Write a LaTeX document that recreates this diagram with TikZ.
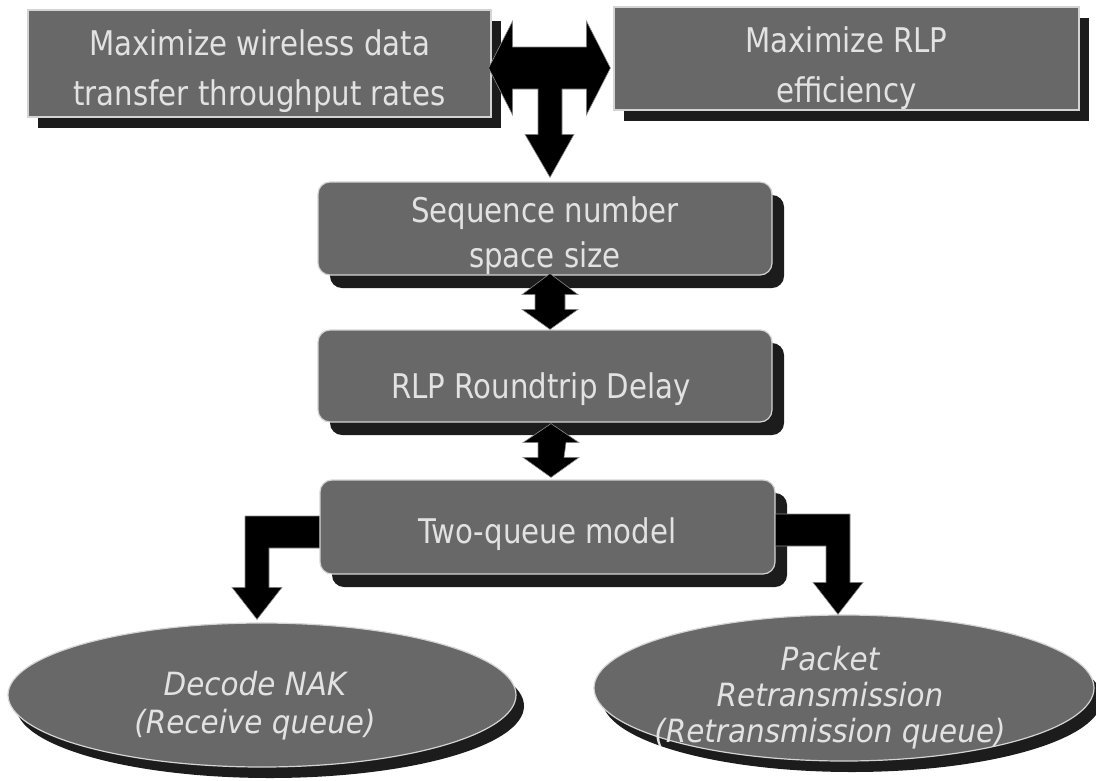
\documentclass[tikz,border=0pt]{standalone}
\usepackage{fontspec}
\usetikzlibrary{calc,shadows,shapes.geometric}
\newfontfamily\boxfont[FakeStretch=0.86]{DejaVu Sans}
\newfontfamily\ovalfont[FakeStretch=0.92]{DejaVu Sans}
\definecolor{boxgray}{HTML}{686868}
\definecolor{shadowgray}{HTML}{1C1C1C}
\definecolor{rimgray}{HTML}{D4D4D4}
\definecolor{txtgray}{HTML}{E2E2E2}
\begin{document}
\begin{tikzpicture}[x=1pt,y=-1pt,
  panel/.style={fill=boxgray, draw=rimgray, line width=1.2pt, inner sep=0pt,
    drop shadow={opacity=1, fill=shadowgray, shadow xshift=10pt, shadow yshift=-11pt}},
  roundpanel/.style={fill=boxgray, draw=rimgray, line width=1.2pt, inner sep=0pt,
    rounded corners=12pt,
    drop shadow={opacity=1, fill=shadowgray, shadow xshift=12pt, shadow yshift=-13pt}},
  oval/.style={ellipse, fill=boxgray, draw=rimgray, line width=1.2pt, inner sep=0pt,
    drop shadow={opacity=1, fill=shadowgray, shadow xshift=8pt, shadow yshift=-11pt}},
  boxtext/.style={text=txtgray, align=center, inner sep=0pt,
    font=\boxfont\fontsize{34}{50}\selectfont},
  ovaltext/.style={text=txtgray, align=center, inner sep=0pt,
    font=\ovalfont\itshape\fontsize{32}{36}\selectfont},
  blockarrow/.style={fill=black, draw=black!45, line width=0.6pt, line join=miter}
]
\useasboundingbox (0,0) rectangle (1096,780);

% goal boxes
\node[panel, minimum width=463pt, minimum height=107pt] (tl) at (259.5,63.5) {};
\node[panel, minimum width=465pt, minimum height=103pt] (tr) at (846.5,58.5) {};

% chain of rounded boxes
\node[roundpanel, minimum width=454pt, minimum height=93pt] (b1) at (545,228.5) {};
\node[roundpanel, minimum width=454pt, minimum height=92pt] (b2) at (545,376) {};
\node[roundpanel, minimum width=455pt, minimum height=94pt] (b3) at (547.5,527) {};

% queue discs
\node[oval, minimum width=508pt, minimum height=144pt] (e1) at (262,695) {};
\node[oval, minimum width=500pt, minimum height=146pt] (e2) at (844,688) {};

% labels
\node[boxtext] (tl-t) at ($(tl)+(0,8)$) {Maximize wireless data\\transfer throughput rates};
\node[boxtext] (tr-t) at ($(tr)+(0,9.5)$) {Maximize RLP\\efficiency};
\node[boxtext, font=\boxfont\fontsize{34}{45}\selectfont] (b1-t) at ($(b1)+(0,7)$) {Sequence number\\space size};
\node[boxtext] (b2-t) at ($(b2)+(-4,13)$) {RLP Roundtrip Delay};
\node[boxtext] (b3-t) at ($(b3)+(0,7)$) {Two-queue model};
\node[ovaltext, font=\ovalfont\itshape\fontsize{32}{38}\selectfont] (e1-t) at ($(e1)+(-7,11)$) {Decode NAK\\(Receive queue)};
\node[ovaltext] (e2-t) at ($(e2)+(-14,10)$) {Packet\\Retransmission\\(Retransmission queue)};

% T-shaped arrow joining the two goals and pointing down
\coordinate (tj) at (550,68);
\coordinate (tL) at ($(tl.east |- tj)+(-3,0)$);
\coordinate (tR) at ($(tr.west |- tj)+(-3,0)$);
\coordinate (tD) at ($(tj |- b1.north)+(0,-4)$);
\draw[blockarrow] (tL) -- ++(24,-47) -- ++(0,26) -- ($(tR)+(-24,-21)$) -- ++(0,-26)
  -- (tR) -- ++(-24,47) -- ++(0,-26) -- ($(tj)+(12,21)$) -- ($(tD)+(12,-43)$)
  -- ++(12,0) -- (tD) -- ++(-25,-43) -- ++(13,0) -- ($(tj)+(-12,21)$)
  -- ($(tL)+(24,21)$) -- ++(0,26) -- cycle;

% two-headed arrows between the rounded boxes
\coordinate (a1) at ($(b1.south)+(5,-2)$);
\coordinate (a1b) at (a1 |- b2.north);
\draw[blockarrow] (a1) -- ++(28,21) -- ++(-13,0) -- ($(a1b)+(15,-20)$) -- ++(13,0)
  -- (a1b) -- ++(-28,-20) -- ++(13,0) -- ($(a1)+(-15,21)$) -- ++(-13,0) -- cycle;
\coordinate (a2) at ($(b2.south)+(6,1)$);
\coordinate (a2b) at ($(a2 |- b3.north)+(0,-2)$);
\draw[blockarrow] (a2) -- ++(28,19) -- ++(-13,0) -- ($(a2b)+(13,-20)$) -- ++(15,0)
  -- (a2b) -- ++(-28,-20) -- ++(15,0) -- ($(a2)+(-13,19)$) -- ++(-15,0) -- cycle;

% elbow arrows to the two queues
\coordinate (lelb) at ($(b3.west)+(0,5)$);
\coordinate (ltip) at ($(e1.north)+(-5,-3)$);
\draw[blockarrow] ($(lelb)+(0,-16)$) -| ($(ltip)+(-12,-32)$) -- ++(-13,0) -- (ltip)
  -- ($(ltip)+(25,-32)$) -- ++(-13,0) |- ($(lelb)+(0,16)$) -- cycle;
\coordinate (relb) at ($(b3.east)+(0,3)$);
\coordinate (rtip) at ($(e2.north)+(-6,0)$);
\draw[blockarrow] ($(relb)+(0,-16)$) -| ($(rtip)+(12,-32)$) -- ++(13,0) -- (rtip)
  -- ($(rtip)+(-25,-32)$) -- ++(13,0) |- ($(relb)+(0,16)$) -- cycle;
\end{tikzpicture}
\end{document}
